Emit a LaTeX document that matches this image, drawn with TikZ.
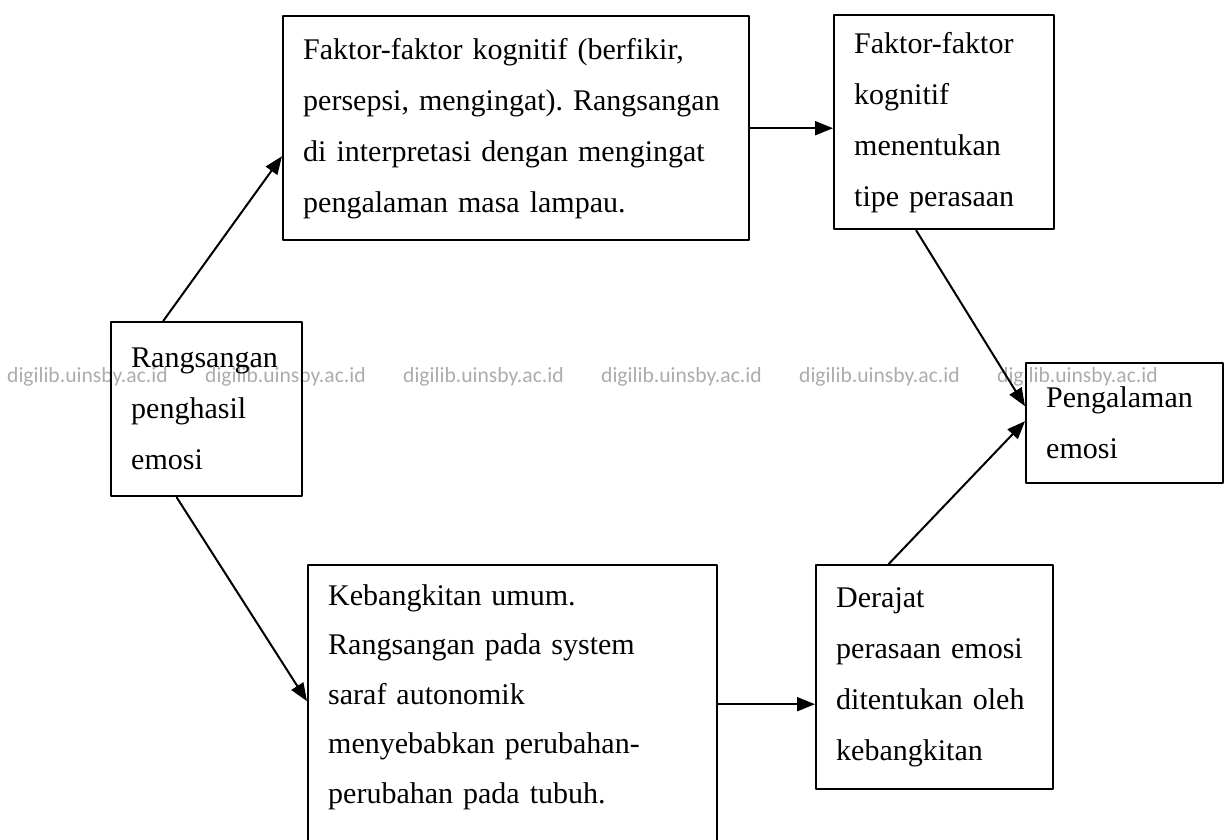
\documentclass[tikz,border=0pt]{standalone}
\usepackage{fontspec}
\setmainfont{Liberation Serif}
\newfontfamily\wmfont{Carlito}
\usetikzlibrary{arrows.meta,positioning}
\definecolor{wmgray}{RGB}{172,172,172}
\frenchspacing

\begin{document}
\begin{tikzpicture}[x=1pt,y=-1pt,line cap=round,line join=round,
  kotak/.style={draw,line width=2.4pt,rectangle,anchor=north west,inner xsep=20pt,inner ysep=0pt,align=left,font=\fontsize{30}{51}\selectfont},
  panah/.style={line width=2pt,-{Triangle[length=18pt,width=14pt]}},
  tanda/.style={anchor=base west,inner sep=0pt,text=wmgray,font=\wmfont\fontsize{21.6}{24}\selectfont}]
  \useasboundingbox (0,0) rectangle (1226,839);
  \foreach \i in {0,...,5}
    \node[tanda] (wm\i) at (7+198*\i,382) {digilib.uinsby.ac.id};
  \node[kotak,minimum width=191pt,minimum height=174pt,text width=151pt] (rangsang) at (110,321) {Rangsangan\\penghasil\\emosi};
  \node[kotak,minimum width=466pt,minimum height=224pt,text width=426pt] (kognitif) at (282,15) {Faktor-faktor kognitif (berfikir,\\persepsi, mengingat). Rangsangan\\di interpretasi dengan mengingat\\pengalaman masa lampau.};
  \node[kotak,minimum width=220pt,minimum height=214pt,text width=180pt] (tipe) at (833,14) {Faktor-faktor\\kognitif\\menentukan\\tipe perasaan};
  \node[kotak,minimum width=197pt,minimum height=120pt,text width=157pt] (pengalaman) at (1025,362) {Pengalaman\\emosi};
  \node[kotak,minimum width=409pt,minimum height=322pt,text width=369pt,font=\fontsize{30}{49.5}\selectfont] (bangkit) at (307,564) {Kebangkitan umum.\\Rangsangan pada system\\saraf autonomik\\menyebabkan perubahan-\\perubahan pada tubuh.\\\strut};
  \node[kotak,minimum width=237pt,minimum height=224pt,text width=197pt] (derajat) at (815,564) {Derajat\\perasaan emosi\\ditentukan oleh\\kebangkitan};
  % panah
  \draw[panah] ([xshift=-43.5pt]rangsang.north) -- ([yshift=-28pt]kognitif.west);
  \draw[panah] ([xshift=-30pt]rangsang.south) -- ([yshift=25pt]bangkit.west);
  \draw[panah] (kognitif.east) -- (kognitif.east -| tipe.west);
  \draw[panah] ([xshift=-28pt]tipe.south) -- ([yshift=17pt]pengalaman.west);
  \draw[panah] ([xshift=-46pt]derajat.north) -- ([yshift=2pt]pengalaman.west);
  \draw[panah] ([yshift=22pt]bangkit.east) -- ([yshift=22pt]bangkit.east -| derajat.west);
\end{tikzpicture}
\end{document}
